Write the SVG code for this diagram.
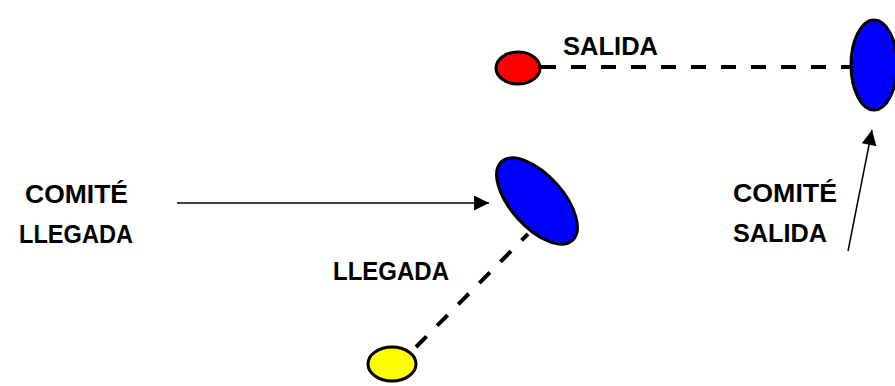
<svg xmlns="http://www.w3.org/2000/svg" width="895" height="386" viewBox="0 0 895 386">
<defs>
<style>
.lbl{font-family:"Liberation Sans",Arial,sans-serif;font-weight:bold;font-size:26px;fill:#000}
.node{stroke:#000;stroke-width:3}
.dash{stroke:#000;stroke-width:4;stroke-dasharray:15,15;fill:none}
.arr{stroke:#000;stroke-width:1.5;fill:none;marker-end:url(#ah)}
</style>
<marker id="ah" viewBox="0 0 10 10" refX="10" refY="5" markerUnits="userSpaceOnUse" markerWidth="16" markerHeight="15" orient="auto">
<path d="M0,0 L10,5 L0,10 z" fill="#000"/>
</marker>
</defs>
<rect width="895" height="386" fill="#fff"/>
<g id="connectors">
<line class="dash" x1="541" y1="67" x2="851" y2="67"/>
<line class="dash" x1="416" y1="347" x2="528" y2="234"/>
<line class="arr" x1="177" y1="203" x2="489" y2="203"/>
<line class="arr" x1="848" y1="251" x2="872" y2="130"/>
</g>
<g id="salida-start">
<ellipse class="node" cx="518" cy="68" rx="22" ry="16" fill="#ff0000"/>
</g>
<g id="salida-end">
<ellipse class="node" cx="874" cy="65" rx="23" ry="45" fill="#0000ff"/>
</g>
<g id="llegada-end">
<ellipse class="node" cx="537" cy="201" rx="53" ry="26" fill="#0000ff" transform="rotate(48 537 201)"/>
</g>
<g id="llegada-start">
<ellipse class="node" cx="392" cy="364" rx="24" ry="17" fill="#ffff00"/>
</g>
<g id="labels">
<text class="lbl" x="563" y="55" textLength="95" lengthAdjust="spacingAndGlyphs">SALIDA</text>
<text class="lbl" x="25" y="203" textLength="103" lengthAdjust="spacingAndGlyphs">COMITÉ</text>
<text class="lbl" x="19" y="243" textLength="114" lengthAdjust="spacingAndGlyphs">LLEGADA</text>
<text class="lbl" x="333" y="280" textLength="116" lengthAdjust="spacingAndGlyphs">LLEGADA</text>
<text class="lbl" x="733" y="202" textLength="104" lengthAdjust="spacingAndGlyphs">COMITÉ</text>
<text class="lbl" x="733" y="242" textLength="94" lengthAdjust="spacingAndGlyphs">SALIDA</text>
</g>
</svg>
